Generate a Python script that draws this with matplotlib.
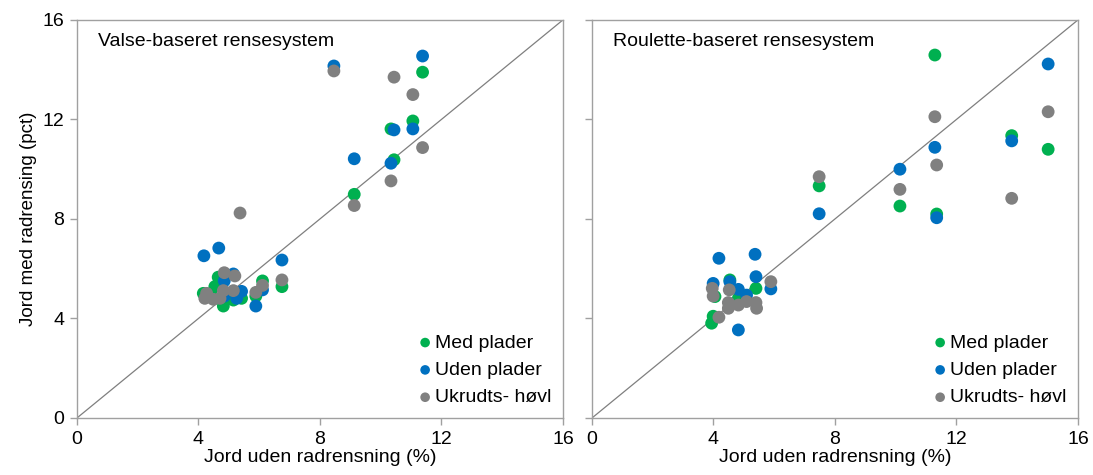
import numpy as np
import matplotlib.pyplot as plt

plt.rcParams['font.family'] = ['Liberation Sans', 'DejaVu Sans']

# Valse-baseret rensesystem
valse_med_x = [4.16, 4.54, 4.65, 4.82, 5.15, 5.42, 5.89, 6.11, 6.75, 9.13, 10.34, 10.44, 11.06, 11.38, 4.40]
valse_med_y = [5.01, 5.28, 5.66, 4.50, 4.74, 4.81, 4.90, 5.51, 5.28, 8.99, 11.62, 10.38, 11.94, 13.90, 5.00]
valse_uden_x = [4.18, 4.67, 6.75, 4.85, 5.15, 5.26, 5.42, 5.89, 6.11, 8.46, 9.13, 10.34, 10.44, 11.06, 11.38, 4.85]
valse_uden_y = [6.52, 6.83, 6.35, 5.51, 5.79, 4.81, 5.09, 4.50, 5.15, 14.15, 10.42, 10.24, 11.58, 11.62, 14.55, 4.90]
valse_hovl_x = [4.21, 4.27, 4.49, 4.71, 4.82, 4.85, 5.15, 5.20, 5.37, 5.89, 6.11, 6.75, 8.46, 9.13, 10.34, 10.44, 11.06, 11.38]
valse_hovl_y = [4.81, 5.01, 4.77, 4.81, 5.12, 5.84, 5.12, 5.71, 8.24, 5.05, 5.33, 5.55, 13.95, 8.54, 9.53, 13.70, 13.00, 10.87]

# Roulette-baseret rensesystem
roul_med_x = [11.29, 13.82, 15.02, 7.48, 10.14, 11.35, 5.40, 4.54, 4.05, 4.82, 3.99, 3.94]
roul_med_y = [14.59, 11.35, 10.80, 9.33, 8.52, 8.20, 5.21, 5.55, 4.88, 4.81, 4.09, 3.81]
roul_uden_x = [15.02, 13.82, 11.29, 10.14, 7.48, 11.35, 4.18, 5.37, 5.40, 5.89, 3.99, 4.54, 4.82, 5.09, 4.82]
roul_uden_y = [14.23, 11.14, 10.88, 10.00, 8.21, 8.05, 6.42, 6.58, 5.68, 5.19, 5.41, 5.48, 5.17, 4.94, 3.54]
roul_hovl_x = [15.02, 11.29, 11.35, 7.48, 10.14, 13.82, 5.89, 3.96, 3.99, 4.52, 4.49, 4.49, 4.82, 5.09, 5.40, 5.42, 4.18]
roul_hovl_y = [12.31, 12.11, 10.17, 9.70, 9.19, 8.83, 5.48, 5.21, 4.90, 5.15, 4.64, 4.41, 4.54, 4.68, 4.64, 4.41, 4.05]

labels = ["Med plader", "Uden plader", "Ukrudts- høvl"]
colors = ["#00B050", "#0070C0", "#808080"]
ticks = [0, 4, 8, 12, 16]

panels = [
    ("Valse-baseret rensesystem",
     [(valse_med_x, valse_med_y), (valse_uden_x, valse_uden_y), (valse_hovl_x, valse_hovl_y)]),
    ("Roulette-baseret rensesystem",
     [(roul_med_x, roul_med_y), (roul_uden_x, roul_uden_y), (roul_hovl_x, roul_hovl_y)]),
]

fig = plt.figure(figsize=(10.93, 4.75), dpi=100)
ax_left = fig.add_axes([0.0704, 0.12, 0.4446, 0.838])
ax_right = fig.add_axes([0.5416, 0.12, 0.4446, 0.838])

for ax, (title, series) in zip([ax_left, ax_right], panels):
    ax.plot([0, 16], [0, 16], color="#7f7f7f", linewidth=0.9, zorder=1)
    for (xs, ys), lab, col in zip(series, labels, colors):
        ax.scatter(xs, ys, s=85, color=col, edgecolors="none", label=lab, zorder=2)

    ax.set_xlim(0, 16)
    ax.set_ylim(0, 16)
    ax.set_xticks(ticks)
    ax.set_yticks(ticks)
    for sp in ax.spines.values():
        sp.set_color("#a0a0a0")
        sp.set_linewidth(1.0)
    ax.tick_params(direction="out", length=5, width=1, color="#a0a0a0",
                   labelsize=14, pad=4)
    ax.set_xlabel("Jord uden radrensning (%)", fontsize=14, labelpad=1)
    ax.text(0.043, 0.945, title, transform=ax.transAxes, fontsize=14,
            ha="left", va="center")
    leg = ax.legend(loc="lower right", frameon=False, fontsize=14,
                    handletextpad=0.05, handlelength=0.9, markerscale=0.75,
                    labelspacing=0.5, borderaxespad=0.2,
                    bbox_to_anchor=(1.0, 0.0))

ax_left.set_ylabel("Jord med radrensing (pct)", fontsize=13.5, labelpad=4)
ax_right.tick_params(axis="y", labelleft=False)

fig.savefig("out.png", dpi=100)
